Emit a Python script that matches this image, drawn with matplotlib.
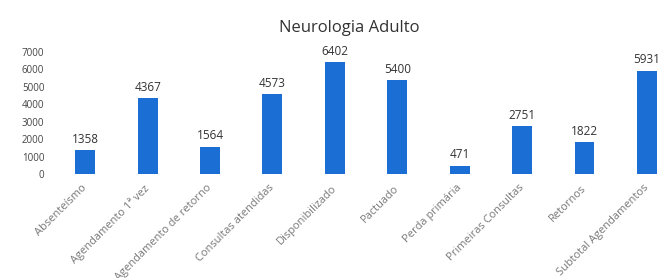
import matplotlib.pyplot as plt

categories = ['Absenteísmo', 'Agendamento 1ª vez', 'Agendamento de retorno',
              'Consultas atendidas', 'Disponibilizado', 'Pactuado',
              'Perda primária', 'Primeiras Consultas', 'Retornos',
              'Subtotal Agendamentos']
values = [1358, 4367, 1564, 4573, 6402, 5400, 471, 2751, 1822, 5931]
yticks = [0, 1000, 2000, 3000, 4000, 5000, 6000, 7000]

plt.rcParams['font.family'] = ['Open Sans', 'DejaVu Sans']

fig = plt.figure(figsize=(6.59, 2.78), dpi=100)
ax = fig.add_axes([0.082, 0.374, 0.947, 0.439])

x = range(len(categories))
bars = ax.bar(x, values, width=0.32, color='#1b6fd4')
for b, v in zip(bars, values):
    ax.text(b.get_x() + b.get_width() / 2, v + 250, str(v),
            ha='center', va='bottom', fontsize=8.5, color='#333333')

ax.set_xlim(-0.5, len(categories) - 0.5)
ax.set_ylim(0, 7000)
ax.set_yticks(yticks)
ax.set_yticklabels([str(t) for t in yticks], fontsize=7, color='#444444')
ax.set_xticks(list(x))
ax.set_xticklabels(categories, rotation=45, ha='right', va='center',
                   rotation_mode='anchor', fontsize=7.9, color='#777777')
ax.tick_params(length=0)
ax.tick_params(axis='x', pad=9)
ax.tick_params(axis='y', pad=7)
for s in ax.spines.values():
    s.set_visible(False)

fig.text(0.530, 0.90, 'Neurologia Adulto', ha='center', va='center',
         fontsize=12, color='#333333')

fig.savefig('out.png', dpi=100)
